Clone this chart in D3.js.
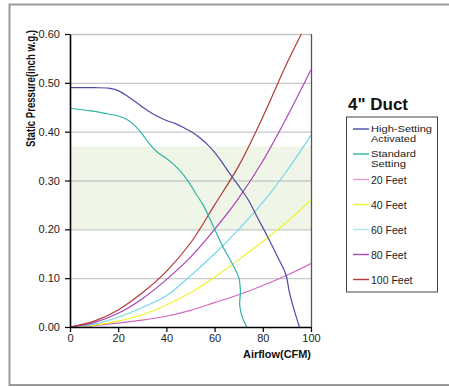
<!DOCTYPE html>
<html><head><meta charset="utf-8">
<script src="https://cdn.jsdelivr.net/npm/d3@7"></script>
<style>body{margin:0;background:#fff;}svg{display:block;font-family:"Liberation Sans",Arial,sans-serif;}</style>
</head><body>
<svg id="c" width="449" height="387"></svg>
<script>
const xTicks = [0, 20, 40, 60, 80, 100];
const yTicks = [0, 0.1, 0.2, 0.3, 0.4, 0.5, 0.6];
const band = [0.20, 0.37];
const seriesNames = ["High-Setting Activated", "Standard Setting", "20 Feet", "40 Feet", "60 Feet", "80 Feet", "100 Feet"];
const seriesColors = ["#4b4ba6", "#2fb2a8", "#d468c0", "#f2f22a", "#74d8ea", "#a845b8", "#b23a3a"];
const legendLineColors = ["#4b4ba6", "#2fb2a8", "#e0a0d4", "#f2f22a", "#a8e8f0", "#a845b8", "#b23a3a"];
const highSetting = [[0,0.49],[10,0.49],[16,0.489],[20,0.484],[24,0.472],[28,0.458],[32,0.444],[36,0.432],[40,0.423],[44,0.416],[48,0.406],[51,0.398],[54,0.387],[58,0.369],[62,0.345],[66,0.316],[70,0.289],[74,0.26],[78,0.222],[82,0.185],[86,0.145],[89.6,0.107],[91,0.072],[93,0.035],[95.2,0]];
const standardSetting = [[0,0.448],[8,0.443],[14,0.438],[20,0.432],[24,0.424],[27,0.412],[30,0.395],[33,0.375],[36,0.359],[40,0.345],[43,0.333],[46,0.318],[49.6,0.294],[52,0.275],[55.2,0.25],[58,0.222],[60,0.2],[63.5,0.164],[67.6,0.127],[70.1,0.10],[70.7,0.072],[70.4,0.045],[71.5,0.02],[73.4,0]];
const feet20 = [[0,0],[10,0.003],[20,0.008],[30,0.014],[40,0.022],[50,0.034],[60,0.05],[70,0.066],[80,0.085],[90,0.106],[100,0.13]];
const feet40 = [[0,0],[10,0.004],[20,0.012],[30,0.025],[40,0.045],[50,0.07],[60,0.102],[70,0.138],[80,0.175],[90,0.215],[100,0.26]];
const feet60 = [[0,0],[10,0.006],[20,0.02],[30,0.04],[40,0.064],[50,0.105],[60,0.15],[70,0.2],[80,0.255],[90,0.32],[100,0.393]];
const feet80 = [[0,0],[10,0.009],[20,0.028],[30,0.058],[40,0.097],[50,0.143],[60,0.2],[70,0.264],[80,0.34],[90,0.43],[100,0.527]];
const feet100 = [[0,0],[10,0.012],[20,0.035],[30,0.07],[40,0.114],[50,0.172],[60,0.25],[70,0.33],[80,0.43],[90,0.54],[96,0.60]];
const allSeries = [highSetting, standardSetting, feet20, feet40, feet60, feet80, feet100];
const legendWidths = {"High-Setting":61, "Activated":45, "Standard":45, "Setting":35};

const svg = d3.select("#c");
// outer frame
svg.append("path").attr("d","M449,4.5H9.5V385H449").attr("fill","none").attr("stroke","#999").attr("stroke-width",2);

const L=70, R=311, T=34, B=327;
const x = d3.scaleLinear().domain([0,100]).range([L,R]);
const y = d3.scaleLinear().domain([0,0.6]).range([B,T]);

// band
svg.append("rect").attr("x",x(0)).attr("width",x(100)-x(0)).attr("y",y(band[1])).attr("height",y(band[0])-y(band[1])).attr("fill","#eff5e7");
// grid
svg.append("g").selectAll("line").data(yTicks.filter(d=>d>0)).join("line")
  .attr("x1",L).attr("x2",R).attr("y1",d=>y(d)+0.5).attr("y2",d=>y(d)+0.5)
  .attr("stroke",d=>d===0.6?"#c4c4c4":"#c8c8c8").attr("stroke-width",1.3);
// right border
svg.append("line").attr("x1",R+0.5).attr("x2",R+0.5).attr("y1",T).attr("y2",B).attr("stroke","#555").attr("stroke-width",1.3);

// series
svg.append("clipPath").attr("id","clip").append("rect").attr("x",L).attr("y",T).attr("width",R-L).attr("height",B-T);
const line = d3.line().x(d=>x(d[0])).y(d=>y(d[1])).curve(d3.curveCatmullRom.alpha(0.5));
const order = [2,3,4,5,6,1,0];
svg.append("g").attr("clip-path","url(#clip)").selectAll("path").data(order).join("path")
  .attr("d",i=>line(allSeries[i])).attr("fill","none").attr("stroke",i=>seriesColors[i]).attr("stroke-width",1.2);

// axes
const xAxis = svg.append("g").attr("transform",`translate(0,${B})`).call(d3.axisBottom(x).tickValues(xTicks).tickSize(5).tickSizeOuter(0).tickFormat(d3.format("d")));
const yAxis = svg.append("g").attr("transform",`translate(${L},0)`).call(d3.axisLeft(y).tickValues(yTicks).tickSize(5).tickSizeOuter(0).tickFormat(d3.format(".2f")));
[xAxis,yAxis].forEach(a=>{
  a.select(".domain").attr("stroke","#000").attr("stroke-width",1.6);
  a.selectAll(".tick line").attr("stroke","#000").attr("stroke-width",1.2);
  a.selectAll("text").attr("fill","#222").attr("font-size",11).attr("font-family","'Liberation Sans',Arial,sans-serif");
});
xAxis.selectAll("text").attr("dy","0.3em").attr("y",12);
yAxis.selectAll("text").attr("x",-10);

// axis titles
svg.append("text").attr("transform","translate(34.5,147) rotate(-90)").attr("text-anchor","start")
  .attr("font-size",12).attr("font-weight","bold").attr("fill","#111")
  .attr("textLength",117).attr("lengthAdjust","spacingAndGlyphs").text("Static Pressure(inch w.g.)");
svg.append("text").attr("x",311).attr("y",358).attr("text-anchor","end")
  .attr("font-size",11.5).attr("font-weight","bold").attr("fill","#111")
  .attr("textLength",68).attr("lengthAdjust","spacingAndGlyphs").text("Airflow(CFM)");

// legend
svg.append("text").attr("x",348).attr("y",110).attr("font-size",17).attr("font-weight","bold").attr("fill","#111").text('4" Duct');
svg.append("rect").attr("x",346.5).attr("y",117).attr("width",91).attr("height",175).attr("fill","#fff").attr("stroke","#444").attr("stroke-width",1);
const rowY = [129, 154, 179.5, 204.5, 229.5, 254.5, 279.5];
const lg = svg.append("g").selectAll("g").data(seriesNames).join("g");
lg.append("line").attr("x1",353).attr("x2",369).attr("y1",(d,i)=>rowY[i]).attr("y2",(d,i)=>rowY[i])
  .attr("stroke",(d,i)=>legendLineColors[i]).attr("stroke-width",1.4);
lg.each(function(d,i){
  const g = d3.select(this);
  if (d.endsWith("Feet")) {
    g.append("text").attr("x",371).attr("y",rowY[i]+4).attr("font-size",10.5).attr("fill","#222").text(d);
  } else {
    const words = d.split(" ");
    g.append("text").attr("x",371).attr("y",rowY[i]+2.5).attr("font-size",9.5).attr("fill","#222")
      .attr("textLength",legendWidths[words[0]]).attr("lengthAdjust","spacingAndGlyphs").text(words[0]);
    g.append("text").attr("x",371).attr("y",rowY[i]+13.2).attr("font-size",9.5).attr("fill","#222")
      .attr("textLength",legendWidths[words[1]]).attr("lengthAdjust","spacingAndGlyphs").text(words[1]);
  }
});
</script>
</body></html>
